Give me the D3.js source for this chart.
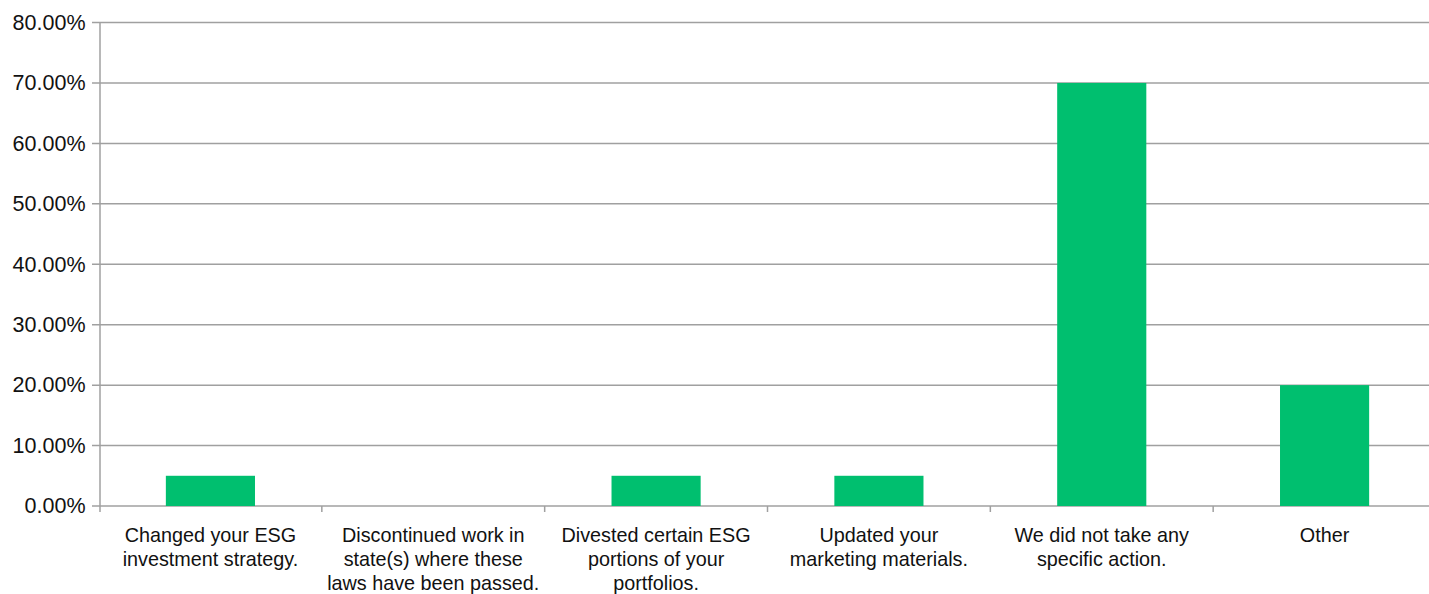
<!DOCTYPE html>
<html>
<head>
<meta charset="utf-8">
<script src="https://cdn.jsdelivr.net/npm/d3@7"></script>
<style>
  html, body { margin: 0; padding: 0; background: #fff; }
  svg { display: block; font-family: "Liberation Sans", Arial, sans-serif; }
</style>
</head>
<body>
<svg id="chart" width="1429" height="594"></svg>
<script>
// Survey responses: actions taken in response to anti-ESG laws
const categories = [
  "Changed your ESG investment strategy.",
  "Discontinued work in state(s) where these laws have been passed.",
  "Divested certain ESG portions of your portfolios.",
  "Updated your marketing materials.",
  "We did not take any specific action.",
  "Other"
];
const categoryLines = [
  ["Changed your ESG", "investment strategy."],
  ["Discontinued work in", "state(s) where these", "laws have been passed."],
  ["Divested certain ESG", "portions of your", "portfolios."],
  ["Updated your", "marketing materials."],
  ["We did not take any", "specific action."],
  ["Other"]
];
const shares = [0.05, 0.0, 0.05, 0.05, 0.70, 0.20];
const yTicks = [0, 0.1, 0.2, 0.3, 0.4, 0.5, 0.6, 0.7, 0.8];

const svg = d3.select("#chart");
const W = 1429;
const gridColor = "#a0a0a0";
const barColor = "#00bf6f";

const x = d3.scaleBand().domain(categories).range([99, 1436]).padding(0);
const y = d3.scaleLinear().domain([0, 0.8]).range([506, 22.5]);
const fmt = d3.format(".2%");

// horizontal gridlines with short left ticks
svg.append("g").selectAll("line").data(yTicks).join("line")
  .attr("x1", 92).attr("x2", W)
  .attr("y1", d => y(d)).attr("y2", d => y(d))
  .attr("stroke", gridColor).attr("stroke-width", 1.5);

// y tick labels
svg.append("g").selectAll("text").data(yTicks).join("text")
  .attr("x", 85.5)
  .attr("y", d => y(d) + 7.3)
  .attr("text-anchor", "end")
  .attr("font-size", 21.5)
  .attr("fill", "#111")
  .text(d => fmt(d));

// bars
const barW = x.bandwidth() * 0.4;
svg.append("g").selectAll("rect").data(categories).join("rect")
  .attr("x", (d) => x(d) + (x.bandwidth() - barW) / 2)
  .attr("width", barW)
  .attr("y", (d, i) => y(shares[i]))
  .attr("height", (d, i) => y(0) - y(shares[i]))
  .attr("fill", barColor);

// left axis line
svg.append("line")
  .attr("x1", 100).attr("x2", 100)
  .attr("y1", y(0.8)).attr("y2", y(0) + 6)
  .attr("stroke", gridColor).attr("stroke-width", 1.5);

// category boundary ticks below the baseline
svg.append("g").selectAll("line").data(categories.slice(1)).join("line")
  .attr("x1", d => x(d)).attr("x2", d => x(d))
  .attr("y1", y(0)).attr("y2", y(0) + 6)
  .attr("stroke", gridColor).attr("stroke-width", 1.5);

// multi-line category labels
const labels = svg.append("g").selectAll("text").data(categories).join("text")
  .attr("transform", d => `translate(${x(d) + x.bandwidth() / 2},542)`)
  .attr("text-anchor", "middle")
  .attr("font-size", 19.8)
  .attr("fill", "#111");
labels.each(function(d, i) {
  d3.select(this).selectAll("tspan").data(categoryLines[i]).join("tspan")
    .attr("x", 0)
    .attr("y", (t, j) => j * 24)
    .text(t => t);
});
</script>
</body>
</html>
